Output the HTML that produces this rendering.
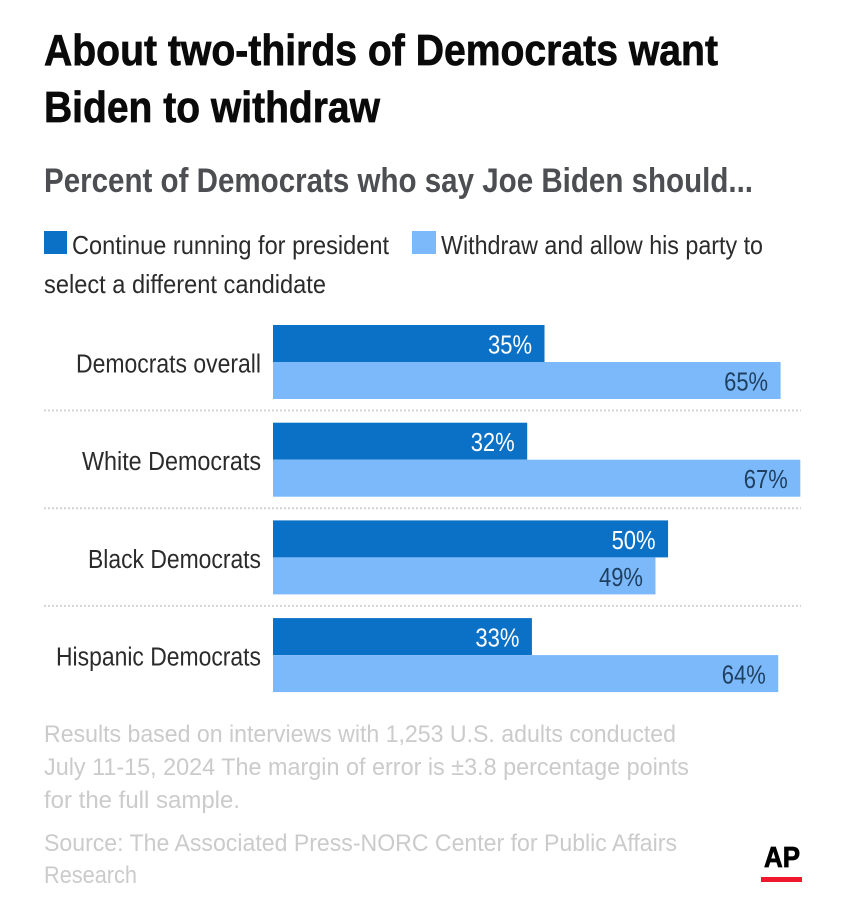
<!DOCTYPE html>
<html lang="en">
<head>
<meta charset="utf-8">
<title>About two-thirds of Democrats want Biden to withdraw</title>
<style>
html,body{margin:0;padding:0;background:#fff;width:846px;height:900px;overflow:hidden}
svg{display:block}
text{font-family:"Liberation Sans",Arial,sans-serif}
</style>
</head>
<body>
<svg id="chart" width="846" height="900" viewBox="0 0 846 900">
  <rect x="0" y="0" width="846" height="900" fill="#ffffff"/>
  <text x="44" y="65" font-size="44" font-weight="700" fill="#0a0a0a" stroke="#0a0a0a" stroke-width=".7" textLength="674" lengthAdjust="spacingAndGlyphs">About two-thirds of Democrats want</text>
  <text x="44" y="122" font-size="44" font-weight="700" fill="#0a0a0a" stroke="#0a0a0a" stroke-width=".7" textLength="336" lengthAdjust="spacingAndGlyphs">Biden to withdraw</text>
  <text x="44" y="192" font-size="34.5" font-weight="700" fill="#4d4e52" textLength="709" lengthAdjust="spacingAndGlyphs">Percent of Democrats who say Joe Biden should...</text>

  <rect x="44" y="231" width="23" height="23" fill="#0a71c6"/>
  <text x="72" y="254" font-size="26" fill="#2b2b2b" textLength="317" lengthAdjust="spacingAndGlyphs">Continue running for president</text>
  <rect x="412" y="231" width="24" height="23" fill="#7cb9fb"/>
  <text x="441" y="254" font-size="26" fill="#2b2b2b" textLength="322" lengthAdjust="spacingAndGlyphs">Withdraw and allow his party to</text>
  <text x="44" y="293" font-size="26" fill="#2b2b2b" textLength="282" lengthAdjust="spacingAndGlyphs">select a different candidate</text>

  <g id="plot"></g>

  <text x="44" y="742" font-size="24" fill="#cbcbcb" textLength="632" lengthAdjust="spacingAndGlyphs">Results based on interviews with 1,253 U.S. adults conducted</text>
  <text x="44" y="775" font-size="24" fill="#cbcbcb" textLength="645" lengthAdjust="spacingAndGlyphs">July 11-15, 2024 The margin of error is ±3.8 percentage points</text>
  <text x="44" y="808" font-size="24" fill="#cbcbcb" textLength="196" lengthAdjust="spacingAndGlyphs">for the full sample.</text>
  <text x="44" y="851" font-size="24" fill="#cbcbcb" textLength="633" lengthAdjust="spacingAndGlyphs">Source: The Associated Press-NORC Center for Public Affairs</text>
  <text x="44" y="883" font-size="24" fill="#cbcbcb" textLength="93" lengthAdjust="spacingAndGlyphs">Research</text>

  <text x="764" y="867" font-size="29" font-weight="700" fill="#000" stroke="#000" stroke-width=".8" textLength="36" lengthAdjust="spacingAndGlyphs">AP</text>
  <rect x="761" y="877" width="41" height="5" fill="#f0182c"/>
</svg>
<script>
const categories = ["Democrats overall", "White Democrats", "Black Democrats", "Hispanic Democrats"];
const continueValues = [34.5, 32.3, 50.2, 32.9];
const withdrawValues = [64.5, 67, 48.6, 64.2];

const SVG_NS = "http://www.w3.org/2000/svg";
const plot = document.getElementById("plot");

function xScale(v) { return 273 + v * 7.87; }
function groupTop(i) { return 325 + i * 97.7; }
const BAR_H = 37;

function make(tag, attrs) {
  const el = document.createElementNS(SVG_NS, tag);
  for (const k in attrs) el.setAttribute(k, attrs[k]);
  plot.appendChild(el);
  return el;
}

function drawBar(i, row, value, fill, labelFill, series) {
  const y = groupTop(i) + row * BAR_H;
  const bar = make("rect", { x: xScale(0), y: y, width: xScale(value) - xScale(0), height: BAR_H, fill: fill });
  
  
  const label = make("text", { x: xScale(value) - 12.5, y: y + 28.5, "text-anchor": "end", "font-size": 25.5, fill: labelFill, textLength: 44, lengthAdjust: "spacingAndGlyphs" });
  label.textContent = Math.round(value) + "%";
  
  
}

categories.forEach(function (name, i) {
  const cat = make("text", { x: 261, y: groupTop(i) + 47.5, "text-anchor": "end", "font-size": 25.5, fill: "#2b2b2b" });
  cat.textContent = name;
  
  
  const w = { 0: 185, 1: 179, 2: 173, 3: 205 }[i];
  cat.setAttribute("textLength", w);
  cat.setAttribute("lengthAdjust", "spacingAndGlyphs");

  drawBar(i, 0, continueValues[i], "#0a71c6", "#ffffff", "continue");
  drawBar(i, 1, withdrawValues[i], "#7cb9fb", "#1f3f5f", "withdraw");

  if (i < categories.length - 1) {
    const yLine = groupTop(i) + 85.5;
    const sep = make("line", { x1: 44, x2: 801, y1: yLine, y2: yLine, stroke: "#d4d4d4", "stroke-width": 2, "stroke-dasharray": "2 2" });
    
    
  }
});
</script>
</body>
</html>
